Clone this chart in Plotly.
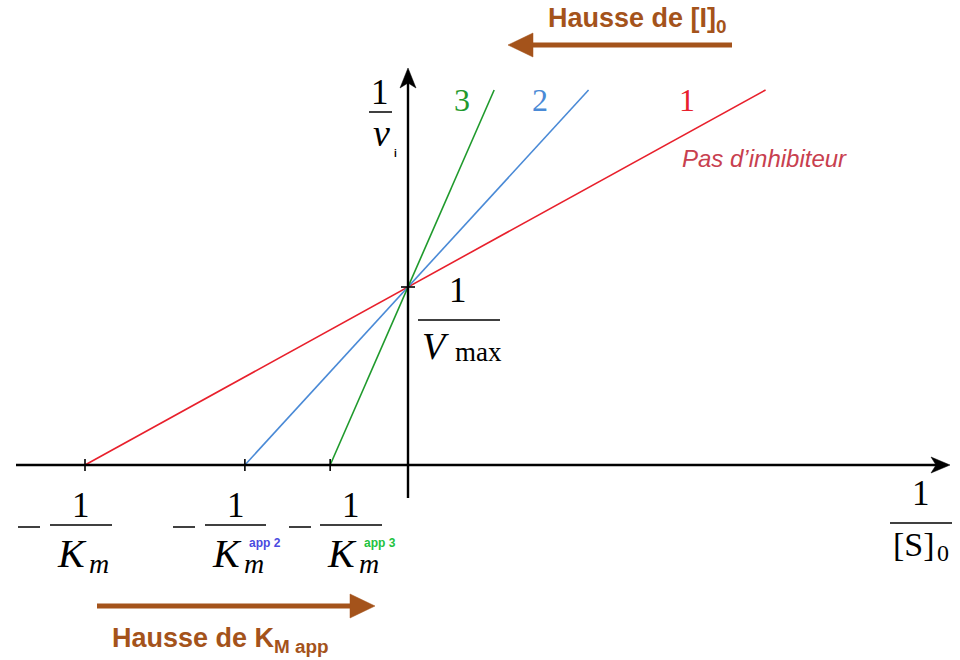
import plotly.graph_objects as go

# Lineweaver-Burk plot: competitive inhibition
series_names = ["1", "2", "3"]
x_intercepts = [-1.0, -0.505, -0.241]      # -1/Km, -1/Km app2, -1/Km app3
inv_vmax = 1.0                              # common y-intercept 1/Vmax
y_top = 2.107                               # where the drawn lines stop
line_colors = ["#e8202c", "#4a8ad6", "#1f9a2c"]

W, H = 960, 660
X0, Y0 = 408, 465          # pixel position of the origin
SX, SY = 323.0, 178.0      # pixels per data unit

x_range = [-X0 / SX, (W - X0) / SX]
y_range = [-(H - Y0) / SY, Y0 / SY]


def px(x):
    return x / W


def py(y):
    return 1 - y / H


fig = go.Figure()

for name, xi, col in zip(series_names, x_intercepts, line_colors):
    x_end = xi * (1 - y_top / inv_vmax)
    fig.add_trace(go.Scatter(x=[xi, x_end], y=[0, y_top], mode="lines",
                             line=dict(color=col, width=1.6),
                             name=name, hoverinfo="skip", showlegend=False))

shapes = []
ann = []
BLACK = "#000000"
BROWN = "#a4531b"

# axes (paper coordinates)
shapes.append(dict(type="line", xref="paper", yref="paper",
                   x0=px(16), x1=px(936), y0=py(Y0), y1=py(Y0),
                   line=dict(color=BLACK, width=2.4)))
shapes.append(dict(type="line", xref="paper", yref="paper",
                   x0=px(X0), x1=px(X0), y0=py(498), y1=py(82),
                   line=dict(color=BLACK, width=2.4)))


def tri_path(pts):
    s = "M {} {}".format(*pts[0])
    for p in pts[1:]:
        s += " L {} {}".format(*p)
    return s + " Z"


# arrowheads drawn in data space from pixel points
def d(pxx, pyy):
    return ((pxx - X0) / SX, (Y0 - pyy) / SY)


def head(points, color):
    pts = [d(a, b) for a, b in points]
    return dict(type="path", xref="x", yref="y", path=tri_path(pts),
                fillcolor=color, line=dict(color=color, width=0.5))


shapes.append(head([(950, Y0), (931, Y0 - 8), (936, Y0), (931, Y0 + 8)], BLACK))
shapes.append(head([(X0, 68), (X0 - 8, 88), (X0, 83), (X0 + 8, 88)], BLACK))

# ticks at the x-intercepts
for xi in x_intercepts:
    xp = X0 + xi * SX
    shapes.append(dict(type="line", xref="paper", yref="paper",
                       x0=px(xp), x1=px(xp), y0=py(459), y1=py(471),
                       line=dict(color=BLACK, width=1.6)))
# mark at 1/Vmax
yv = Y0 - inv_vmax * SY
shapes.append(dict(type="line", xref="paper", yref="paper",
                   x0=px(401), x1=px(415), y0=py(yv), y1=py(yv),
                   line=dict(color=BLACK, width=1.6)))

# brown arrows
shapes.append(dict(type="line", xref="paper", yref="paper",
                   x0=px(732), x1=px(530), y0=py(45), y1=py(45),
                   line=dict(color=BROWN, width=5)))
shapes.append(head([(508, 45), (533, 33), (533, 57)], BROWN))
shapes.append(dict(type="line", xref="paper", yref="paper",
                   x0=px(97), x1=px(352), y0=py(606), y1=py(606),
                   line=dict(color=BROWN, width=5)))
shapes.append(head([(375, 606), (350, 594), (350, 618)], BROWN))

SERIF = "Liberation Serif"
SANS = "Liberation Sans"


def text(x, y, t, size, color=BLACK, family=SERIF, xanchor="center"):
    ann.append(dict(x=px(x), y=py(y), xref="paper", yref="paper", text=t,
                    showarrow=False, xanchor=xanchor, yanchor="middle",
                    font=dict(family=family, size=size, color=color)))


def bar(x0, x1, y):
    shapes.append(dict(type="line", xref="paper", yref="paper",
                       x0=px(x0), x1=px(x1), y0=py(y), y1=py(y),
                       line=dict(color=BLACK, width=1.5)))


# 1/v_i
text(380, 92, "1", 35)
bar(369, 392, 112)
text(381, 133, "<i>v</i>", 38)
text(395, 153, "<b>i</b>", 10, family=SANS)

# 1/Vmax
text(458, 290, "1", 35)
bar(418, 500, 320)
text(435, 346, "<i>V</i>", 38)
text(478, 352, "max", 27)

# 1/[S]0
text(921, 493, "1", 35)
bar(890, 952, 523)
text(914, 544, "[S]", 34)
text(943, 553, "0", 24)

# x-intercept labels
lab_specs = [
    (29, 81, 50, 112, None, None),
    (184, 236, 205, 266, "app 2", "#4a4ae0"),
    (300, 351, 320, 382, "app 3", "#22c23e"),
]
for mx, cx, b0, b1, sup, scol in lab_specs:
    bar(mx - 11, mx + 11, 527)
    bar(b0, b1, 525)
    text(cx, 505, "1", 35)
    text(cx - 9, 553, "<i>K</i>", 40)
    text(cx + 18, 563, "<i>m</i>", 28)
    if sup:
        text(cx + 11, 543, "<b>" + sup + "</b>", 12, color=scol, family=SANS,
             xanchor="left")

# line labels
text(462, 100, "3", 32, color=line_colors[2])
text(540, 100, "2", 32, color=line_colors[1])
text(687, 100, "1", 32, color=line_colors[0])
text(680, 158, "<i>Pas d\u2019inhibiteur</i>", 24, color="#c8404f",
     family=SANS, xanchor="left")

# brown captions
text(637, 20, "<b>Hausse de [I]<sub>0</sub></b>", 27, color=BROWN, family=SANS)
text(110, 640, "<b>Hausse de K<sub>M app</sub></b>", 27, color=BROWN,
     family=SANS, xanchor="left")

fig.update_layout(
    width=W, height=H, autosize=False,
    margin=dict(l=0, r=0, t=0, b=0),
    paper_bgcolor="white", plot_bgcolor="white",
    xaxis=dict(range=x_range, visible=False, fixedrange=True),
    yaxis=dict(range=y_range, visible=False, fixedrange=True),
    shapes=shapes, annotations=ann, showlegend=False,
)

fig.write_html("out.html")
